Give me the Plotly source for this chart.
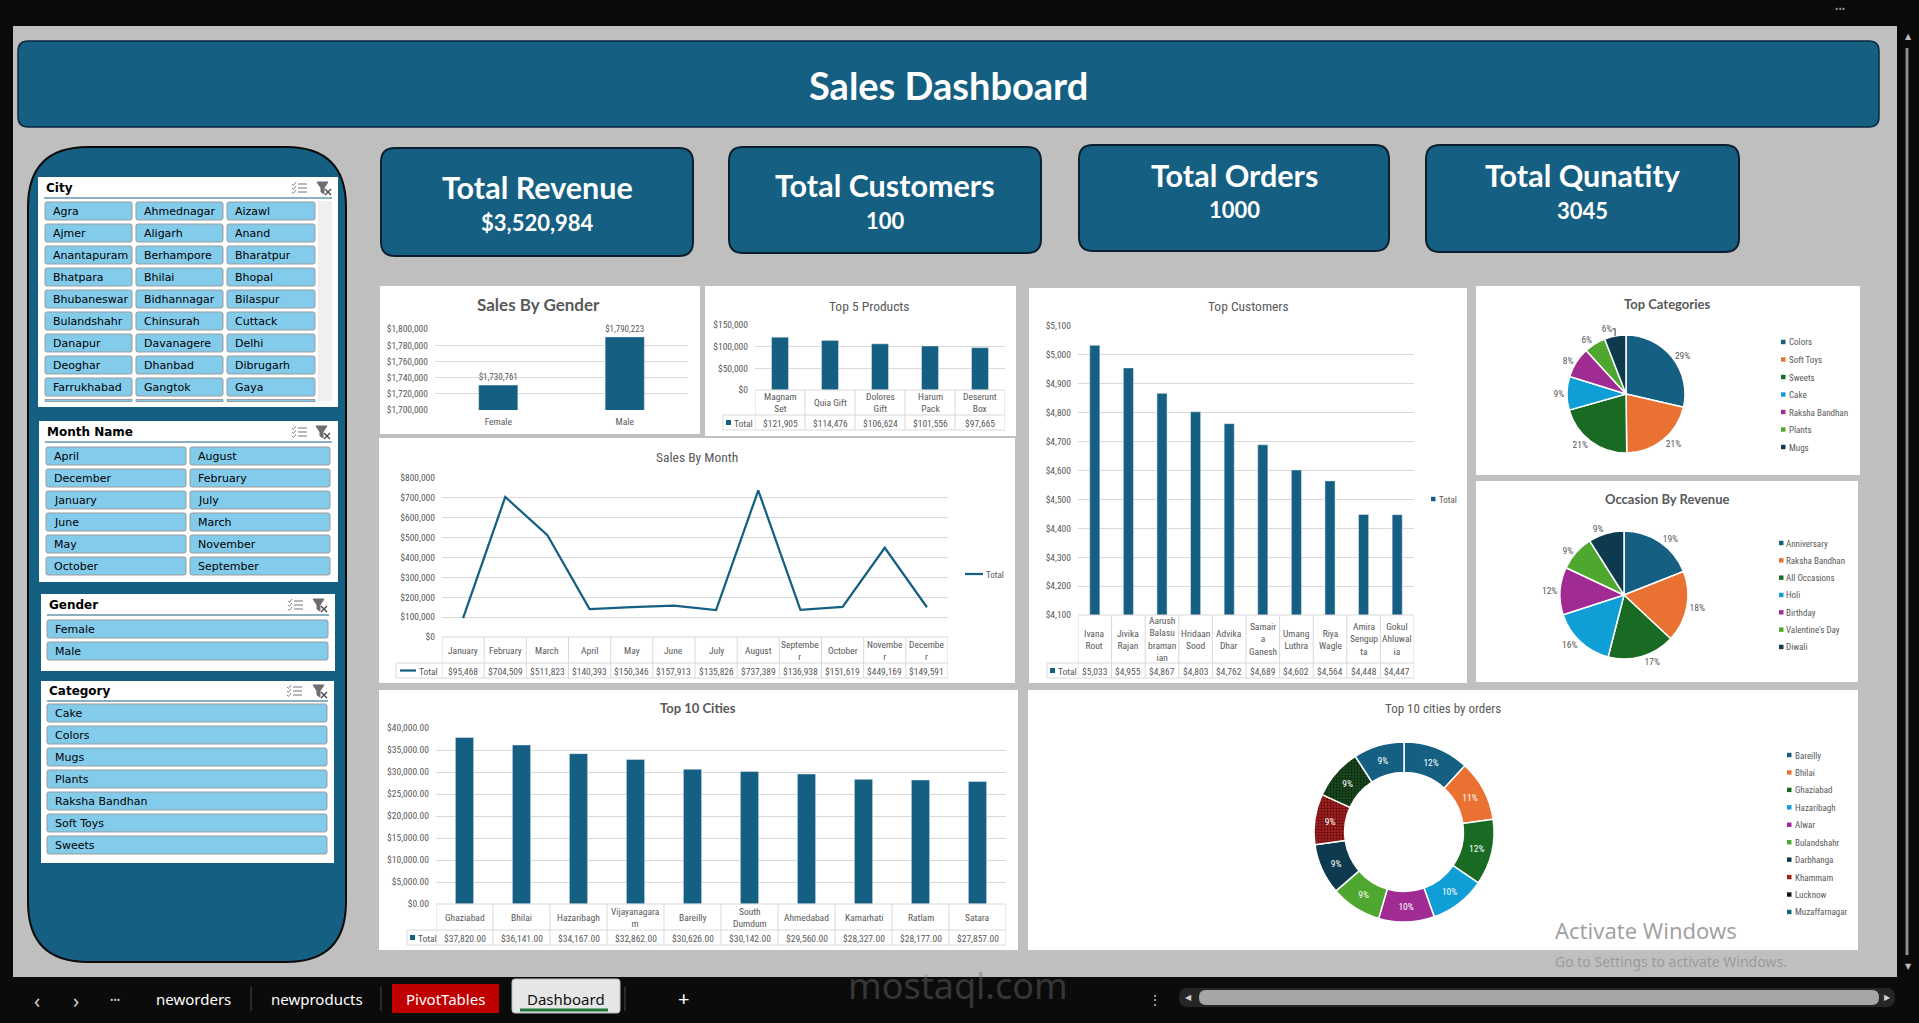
import plotly.graph_objects as go

W, H = 1919, 1023

# ---------------- data ----------------
kpi_labels = ["Total Revenue", "Total Customers", "Total Orders", "Total Qunatity"]
kpi_values = [3520984, 100, 1000, 3045]
kpi_formats = ["${:,}", "{}", "{}", "{}"]

gender_labels = ["Female", "Male"]
gender_sales = [1730761, 1790223]

product_names = ["Magnam Set", "Quia Gift", "Dolores Gift", "Harum Pack", "Deserunt Box"]
product_ticks = ["Magnam<br>Set", "Quia Gift", "Dolores<br>Gift", "Harum<br>Pack", "Deserunt<br>Box"]
product_sales = [121905, 114476, 106624, 101556, 97665]

customer_names = ["Ivana Rout", "Jivika Rajan", "Aarush Balasubramanian", "Hridaan Sood", "Advika Dhar",
                  "Samaira Ganesh", "Umang Luthra", "Riya Wagle", "Amira Sengupta", "Gokul Ahluwalia"]
customer_ticks = ["Ivana<br>Rout", "Jivika<br>Rajan", "Aarush<br>Balasu<br>braman<br>ian", "Hridaan<br>Sood",
                  "Advika<br>Dhar", "Samair<br>a<br>Ganesh", "Umang<br>Luthra", "Riya<br>Wagle",
                  "Amira<br>Sengup<br>ta", "Gokul<br>Ahluwal<br>ia"]
customer_sales = [5033, 4955, 4867, 4803, 4762, 4689, 4602, 4564, 4448, 4447]

month_names = ["January", "February", "March", "April", "May", "June", "July", "August",
               "September", "October", "November", "December"]
month_ticks = ["January", "February", "March", "April", "May", "June", "July", "August",
               "Septembe<br>r", "October", "Novembe<br>r", "Decembe<br>r"]
month_sales = [95468, 704509, 511823, 140393, 150346, 157913, 135826, 737389, 136938, 151619, 449169, 149591]

city_names = ["Ghaziabad", "Bhilai", "Hazaribagh", "Vijayanagaram", "Bareilly", "South Dumdum",
              "Ahmedabad", "Kamarhati", "Ratlam", "Satara"]
city_ticks = ["Ghaziabad", "Bhilai", "Hazaribagh", "Vijayanagara<br>m", "Bareilly", "South<br>Dumdum",
              "Ahmedabad", "Kamarhati", "Ratlam", "Satara"]
city_sales = [37820, 36141, 34167, 32862, 30626, 30142, 29560, 28327, 28177, 27857]

category_names = ["Colors", "Soft Toys", "Sweets", "Cake", "Raksha Bandhan", "Plants", "Mugs"]
category_share = [28.6, 21.2, 20.8, 9.2, 8.4, 5.9, 5.9]

occasion_names = ["Anniversary", "Raksha Bandhan", "All Occasions", "Holi", "Birthday", "Valentine's Day", "Diwali"]
occasion_share = [19, 18, 17, 16, 12, 9, 9]

order_cities = ["Bareilly", "Bhilai", "Ghaziabad", "Hazaribagh", "Alwar", "Bulandshahr",
                "Darbhanga", "Khammam", "Lucknow", "Muzaffarnagar"]
order_counts = [13, 12, 13, 11, 11, 10, 10, 10, 10, 10]

slicer_cities = ["Agra", "Ahmednagar", "Aizawl", "Ajmer", "Aligarh", "Anand", "Anantapuram", "Berhampore",
                 "Bharatpur", "Bhatpara", "Bhilai", "Bhopal", "Bhubaneswar", "Bidhannagar", "Bilaspur",
                 "Bulandshahr", "Chinsurah", "Cuttack", "Danapur", "Davanagere", "Delhi", "Deoghar",
                 "Dhanbad", "Dibrugarh", "Farrukhabad", "Gangtok", "Gaya"]
slicer_months = ["April", "August", "December", "February", "January", "July", "June", "March",
                 "May", "November", "October", "September"]
slicer_genders = ["Female", "Male"]
slicer_categories = ["Cake", "Colors", "Mugs", "Plants", "Raksha Bandhan", "Soft Toys", "Sweets"]

sheet_tabs = ["neworders", "newproducts", "PivotTables", "Dashboard"]

# ---------------- styles ----------------
BLUE = "#156082"
GRAY_TXT = "#595959"
GRID = "#d9d9d9"
NARROW = "Liberation Sans Narrow, Arial Narrow, Roboto Condensed, Roboto, sans-serif"
HEAD = "Lato, Open Sans, sans-serif"
SLICER = "DejaVu Sans, Verdana, sans-serif"
UI = "Noto Sans, Open Sans, sans-serif"
pie_colors = ["#156082", "#E97132", "#196B24", "#0F9ED5", "#A02B93", "#4EA72E", "#0D3A4E"]
donut_colors = pie_colors + ["#A41E1E", "#1A4A1E", "#156082"]

shapes = []
annotations = []


def X(p):
    return p / W


def Y(p):
    return 1 - p / H


def rect(x0, y0, x1, y1, fill, line_color=None, lw=0, layer="below"):
    shapes.append(dict(type="rect", xref="paper", yref="paper", x0=X(x0), x1=X(x1), y0=Y(y1), y1=Y(y0),
                       fillcolor=fill, line=dict(color=line_color or fill, width=lw), layer=layer))


def P(x, y):
    return f"{X(x):.6f},{Y(y):.6f}"


def rrect(x0, y0, x1, y1, r, fill, line_color, lw, layer="below"):
    path = (f"M{P(x0 + r, y0)} L{P(x1 - r, y0)} Q{P(x1, y0)} {P(x1, y0 + r)} L{P(x1, y1 - r)} "
            f"Q{P(x1, y1)} {P(x1 - r, y1)} L{P(x0 + r, y1)} Q{P(x0, y1)} {P(x0, y1 - r)} "
            f"L{P(x0, y0 + r)} Q{P(x0, y0)} {P(x0 + r, y0)} Z")
    shapes.append(dict(type="path", xref="paper", yref="paper", path=path, fillcolor=fill,
                       line=dict(color=line_color, width=lw), layer=layer))


def line(x0, y0, x1, y1, color, w=1, layer="above"):
    shapes.append(dict(type="line", xref="paper", yref="paper", x0=X(x0), x1=X(x1), y0=Y(y0), y1=Y(y1),
                       line=dict(color=color, width=w), layer=layer))


def text(x, y, s, size, color, family, xanchor="center", yanchor="middle"):
    annotations.append(dict(xref="paper", yref="paper", x=X(x), y=Y(y), text=s, showarrow=False,
                            font=dict(size=size, color=color, family=family), xanchor=xanchor,
                            yanchor=yanchor, borderpad=0))


# ---------------- frame ----------------
rect(0, 0, W, 26, "#0a0a0a")
rect(0, 0, 13, H, "#0a0a0a")
rect(1897, 0, W, H, "#0a0a0a")
rect(0, 977, W, H, "#0b0b0b")
text(1840, 9, "•••", 9, "#9a9a9a", UI)
text(1908, 37, "▲", 8, "#bdbdbd", SLICER)
text(1908, 966, "▼", 8, "#bdbdbd", SLICER)
line(1907, 48, 1907, 955, "#8c8c8c", 3, layer="below")

# title banner
rrect(18, 41, 1879, 127, 10, BLUE, "#0e2841", 1.5)
text(948, 85, "<b>Sales Dashboard</b>", 38, "white", HEAD)

# KPI cards
kpi_boxes = [(381, 148, 693, 256), (729, 147, 1041, 253), (1079, 145, 1389, 251), (1426, 145, 1739, 252)]
kpi_title_y = [187, 185, 175, 175]
kpi_value_y = [222, 220, 209, 210]
for (x0, y0, x1, y1), lab, val, fmt, ty, vy in zip(kpi_boxes, kpi_labels, kpi_values, kpi_formats,
                                                    kpi_title_y, kpi_value_y):
    rrect(x0, y0, x1, y1, 14, BLUE, "#0b1f2e", 2)
    cx = (x0 + x1) / 2
    text(cx, ty, f"<b>{lab}</b>", 30.5, "white", HEAD)
    text(cx, vy, f"<b>{fmt.format(val)}</b>", 22, "white", HEAD)

# white chart panels
panels = [(380, 286, 700, 434), (705, 286, 1016, 436), (1029, 288, 1467, 683), (1476, 286, 1860, 475),
          (1476, 481, 1858, 682), (379, 438, 1015, 683), (379, 690, 1018, 950), (1028, 690, 1858, 950)]
for p in panels:
    rect(*p, "white")

# ---------------- left slicer panel ----------------
rrect(28, 147, 346, 962, 60, BLUE, "#0b0b0b", 2)


def icon_multi(x0, y0):
    for k in range(3):
        yy = y0 + 2 + k * 4
        line(x0 + 6, yy, x0 + 15, yy, "#8a8a8a", 1.2)
        shapes.append(dict(type="path", xref="paper", yref="paper",
                           path=f"M{P(x0, yy)} L{P(x0 + 1.5, yy + 1.5)} L{P(x0 + 4, yy - 2)}",
                           line=dict(color="#8a8a8a", width=1), layer="above"))


def icon_clear(x0, y0):
    shapes.append(dict(type="path", xref="paper", yref="paper",
                       path=(f"M{P(x0 + 1, y0)} L{P(x0 + 12, y0)} L{P(x0 + 8, y0 + 6)} L{P(x0 + 8, y0 + 12)} "
                             f"L{P(x0 + 5, y0 + 10)} L{P(x0 + 5, y0 + 6)} Z"),
                       fillcolor="#6e6e6e", line=dict(color="#6e6e6e", width=1), layer="above"))
    line(x0 + 9, y0 + 7, x0 + 15, y0 + 13, "#505050", 1.5)
    line(x0 + 15, y0 + 7, x0 + 9, y0 + 13, "#505050", 1.5)


def slicer(box, title, title_y, line_y, lx0, lx1, cols, y0, bh, pitch, items, icon_x, icon_y):
    rect(*box, "white", layer="above")
    text(lx0 + 1, title_y, f"<b>{title}</b>", 12, "#000000", SLICER, "left")
    line(lx0, line_y, lx1, line_y, BLUE, 1)
    for k, item in enumerate(items):
        r, c = divmod(k, len(cols))
        xa, xb = cols[c]
        ya = y0 + r * pitch
        rrect(xa, ya, xb, ya + bh, 2, "#83CBEB", "#9b9b9b", 1, layer="above")
        text(xa + 7, ya + bh / 2 + 0.5, item, 11, "#000000", SLICER, "left")
    icon_multi(icon_x[0], icon_y)
    icon_clear(icon_x[1], icon_y)


city_cols = [(45, 132), (136, 223), (227, 315)]
slicer((38, 177, 338, 407), "City", 188, 198, 44, 332, city_cols, 202, 18, 22, slicer_cities,
       (292, 316), 182)
for xa, xb in city_cols:
    rect(xa, 399.5, xb, 401.5, "#83CBEB", "#9b9b9b", 1, layer="above")
rect(318, 201, 332, 401, "#efefef", layer="above")

slicer((39, 421, 338, 582), "Month Name", 432, 442, 45, 332, [(46, 186), (190, 330)], 447, 18, 22,
       slicer_months, (292, 315), 426)
slicer((41, 594, 335, 671), "Gender", 605, 615, 47, 329, [(47, 328)], 620, 18, 22,
       slicer_genders, (288, 312), 599)
slicer((41, 681, 334, 863), "Category", 691, 701, 47, 328, [(47, 327)], 704, 18, 22,
       slicer_categories, (287, 312), 685)

# ---------------- traces ----------------
fig = go.Figure()
bar_common = dict(marker_color=BLUE, showlegend=False, hoverinfo="skip")

fig.add_trace(go.Bar(x=gender_labels, y=gender_sales, width=0.31, texttemplate="%{y:$,.0f}",
                     textposition="outside", textfont=dict(size=9.5, color=GRAY_TXT, family=NARROW),
                     cliponaxis=False, xaxis="x", yaxis="y", **bar_common))
fig.add_trace(go.Bar(x=product_names, y=product_sales, width=0.34, xaxis="x2", yaxis="y2", **bar_common))
fig.add_trace(go.Bar(x=customer_names, y=customer_sales, width=0.3, xaxis="x3", yaxis="y3", **bar_common))
fig.add_trace(go.Scatter(x=month_names, y=month_sales, mode="lines", line=dict(color=BLUE, width=2.25),
                         xaxis="x4", yaxis="y4", showlegend=False, hoverinfo="skip", cliponaxis=False))
fig.add_trace(go.Bar(x=city_names, y=city_sales, width=0.32, xaxis="x5", yaxis="y5", **bar_common))

fig.add_trace(go.Pie(labels=category_names, values=category_share, sort=False, direction="clockwise",
                     marker=dict(colors=pie_colors, line=dict(color="white", width=1.5)),
                     textposition="outside", texttemplate="%{percent:.0%}",
                     textfont=dict(size=9.5, color=GRAY_TXT, family=NARROW),
                     domain=dict(x=[X(1567), X(1685)], y=[Y(453), Y(335)]),
                     showlegend=False, hoverinfo="skip", automargin=False))
fig.add_trace(go.Pie(labels=occasion_names, values=occasion_share, sort=False, direction="clockwise",
                     marker=dict(colors=pie_colors, line=dict(color="white", width=1.5)),
                     textposition="outside", texttemplate="%{percent:.0%}",
                     textfont=dict(size=9.5, color=GRAY_TXT, family=NARROW),
                     domain=dict(x=[X(1560), X(1688)], y=[Y(659), Y(531)]),
                     showlegend=False, hoverinfo="skip", automargin=False))
fig.add_trace(go.Pie(labels=order_cities, values=order_counts, sort=False, direction="clockwise", hole=0.66,
                     marker=dict(colors=donut_colors, line=dict(color="white", width=1.5),
                                 pattern=dict(shape=["", "", "", "", "", "", "", ".", ".", ""],
                                              fillmode="overlay", fgcolor="#000000", fgopacity=0.55,
                                              size=3, solidity=0.3)),
                     textposition="inside", insidetextorientation="horizontal", texttemplate="%{percent:.0%}",
                     textfont=dict(size=9.5, color="white", family=NARROW),
                     domain=dict(x=[X(1314), X(1494)], y=[Y(922), Y(742)]),
                     showlegend=False, hoverinfo="skip", automargin=False))

# ---------------- axes ----------------
tickfont = dict(size=9.5, color=GRAY_TXT, family=NARROW)


def xax(x0, x1, anchor, n, show=False):
    return dict(domain=[X(x0), X(x1)], anchor=anchor, type="category", range=[-0.5, n - 0.5],
                showgrid=False, zeroline=False, showline=False, showticklabels=show, ticks="",
                fixedrange=True, tickfont=tickfont, ticklabelstandoff=4, automargin=False)


def yax(y0, y1, anchor, rng, dtick, fmt):
    return dict(domain=[Y(y1), Y(y0)], anchor=anchor, range=rng, dtick=dtick, tick0=0, tickformat=fmt,
                showgrid=True, gridcolor=GRID, gridwidth=1, zeroline=False, showline=False, ticks="",
                fixedrange=True, tickfont=tickfont, ticklabelstandoff=6, automargin=False)


layout_axes = dict(
    xaxis=xax(435, 688, "y", len(gender_labels), show=True),
    yaxis=yax(329, 410, "x", [1700000, 1800000], 20000, "$,.0f"),
    xaxis2=xax(755, 1005, "y2", len(product_names)),
    yaxis2=yax(325, 390, "x2", [0, 150000], 50000, "$,.0f"),
    xaxis3=xax(1078, 1414, "y3", len(customer_names)),
    yaxis3=yax(326, 615, "x3", [4100, 5100], 100, "$,.0f"),
    xaxis4=xax(442, 948, "y4", len(month_names)),
    yaxis4=yax(478, 637, "x4", [0, 800000], 100000, "$,.0f"),
    xaxis5=xax(436, 1006, "y5", len(city_names)),
    yaxis5=yax(728, 904, "x5", [0, 40000], 5000, "$,.2f"),
)


# ---------------- data tables ----------------
def add_table(xa, names, ticks, values, fmt, top, mid, bot, key_x0, plot_x0, plot_x1, key="square"):
    n = len(names)
    line(plot_x0, top, plot_x1, top, GRID)
    line(key_x0, mid, plot_x1, mid, GRID)
    line(key_x0, bot, plot_x1, bot, GRID)
    line(key_x0, mid, key_x0, bot, GRID)
    for i in range(n + 1):
        shapes.append(dict(type="line", xref=xa, yref="paper", x0=i - 0.5, x1=i - 0.5, y0=Y(bot), y1=Y(top),
                           line=dict(color=GRID, width=1), layer="above"))
    for name, tick, v in zip(names, ticks, values):
        annotations.append(dict(xref=xa, yref="paper", x=name, y=Y((top + mid) / 2), text=tick,
                                showarrow=False, font=tickfont, xanchor="center", yanchor="middle"))
        annotations.append(dict(xref=xa, yref="paper", x=name, y=Y((mid + bot) / 2 + 0.5), text=fmt.format(v),
                                showarrow=False, font=tickfont, xanchor="center", yanchor="middle"))
    cy = (mid + bot) / 2
    if key == "square":
        rect(key_x0 + 3, cy - 2.5, key_x0 + 8, cy + 2.5, BLUE, layer="above")
        text(key_x0 + 10, cy + 0.5, "Total", 9.5, GRAY_TXT, NARROW, "left")
    else:
        line(key_x0 + 4, cy, key_x0 + 20, cy, BLUE, 2.25)
        text(key_x0 + 22, cy + 0.5, "Total", 9.5, GRAY_TXT, NARROW, "left")


add_table("x2", product_names, product_ticks, product_sales, "${:,}", 390, 415, 430, 723, 755, 1005)
add_table("x3", customer_names, customer_ticks, customer_sales, "${:,}", 615, 663, 678, 1047, 1078, 1414)
add_table("x4", month_names, month_ticks, month_sales, "${:,}", 637, 663, 678, 396, 442, 948, key="line")
add_table("x5", city_names, city_ticks, city_sales, "${:,.2f}", 904, 930, 945, 407, 436, 1006)

# ---------------- chart titles ----------------
text(538, 305, "<b>Sales By Gender</b>", 17, GRAY_TXT, HEAD)
text(869, 306, "Top 5 Products", 13.5, GRAY_TXT, NARROW)
text(1248, 306, "Top Customers", 13.5, GRAY_TXT, NARROW)
text(1667, 304, "<b>Top Categories</b>", 13, GRAY_TXT, HEAD)
text(1667, 499, "<b>Occasion By Revenue</b>", 13, GRAY_TXT, HEAD)
text(697, 457, "Sales By Month", 13.5, GRAY_TXT, NARROW)
text(698, 708, "<b>Top 10 Cities</b>", 13, GRAY_TXT, HEAD)
text(1443, 708, "Top 10 cities by orders", 13, GRAY_TXT, NARROW)


# ---------------- custom legends ----------------
def legend(names, colors, sq_x, y0, pitch, text_x):
    for i, (nm, c) in enumerate(zip(names, colors)):
        yy = y0 + i * pitch
        rect(sq_x, yy - 2.2, sq_x + 4.5, yy + 2.2, c, layer="above")
        text(text_x, yy + 0.5, nm, 9, GRAY_TXT, NARROW, "left")


legend(category_names, pie_colors, 1781, 342, 17.5, 1788)
legend(occasion_names, pie_colors, 1779, 543, 17.33, 1785)
legend(order_cities, ["#156082", "#E97132", "#196B24", "#0F9ED5", "#A02B93", "#4EA72E", "#0D3A4E",
                      "#A41E1E", "#111111", "#156082"], 1787, 755, 17.44, 1794)
legend(["Total"], [BLUE], 1431, 499, 0, 1438)
line(965, 574, 983, 574, BLUE, 2.25)
text(985, 574.5, "Total", 9, GRAY_TXT, NARROW, "left")

# ---------------- bottom sheet bar ----------------
text(37, 1000, "‹", 20, "#d0d0d0", UI)
text(76, 1000, "›", 20, "#d0d0d0", UI)
text(115, 999, "•••", 9, "#d0d0d0", UI)
line(251, 987, 251, 1011, "#4a4a4a", 1)
line(381, 987, 381, 1011, "#4a4a4a", 1)
rect(392, 984, 499, 1013, "#C00000", layer="above")
rrect(512, 979, 620, 1013, 3, "#e6e6e6", "#bdbdbd", 1, layer="above")
line(520, 1010, 608, 1010, "#1f7a3a", 3)
line(625, 987, 625, 1011, "#4a4a4a", 1)
tab_x = [193, 317, 445, 566]
tab_col = ["#ffffff", "#ffffff", "#ffffff", "#111111"]
for tname, tx, tc in zip(sheet_tabs, tab_x, tab_col):
    text(tx, 999, tname, 15, tc, UI)
text(683, 998, "+", 20, "#ffffff", UI)
text(1155, 999, "⋮", 14, "#bdbdbd", UI)
rrect(1179, 988, 1895, 1007, 9, "#262626", "#262626", 0, layer="above")
rrect(1199, 990, 1879, 1005, 7, "#a6a6a6", "#a6a6a6", 0, layer="above")
text(1188, 997, "◀", 8, "#d0d0d0", SLICER)
text(1887, 997, "▶", 8, "#d0d0d0", SLICER)

# overlays seen on the screenshot
text(1554, 930, "Activate Windows", 22, "rgba(130,130,130,0.75)", UI, "left")
text(1554, 961, "Go to Settings to activate Windows.", 14, "rgba(150,150,150,0.9)", UI, "left")
text(958, 985, "mostaql.com", 36, "rgba(110,110,110,0.45)", UI)

fig.update_layout(width=W, height=H, margin=dict(l=0, r=0, t=0, b=0, pad=0, autoexpand=False),
                  paper_bgcolor="#bfbfbf",
                  plot_bgcolor="rgba(0,0,0,0)", showlegend=False, hovermode=False,
                  font=dict(family=NARROW, size=9.5, color=GRAY_TXT),
                  shapes=shapes, annotations=annotations, **layout_axes)

fig.write_html("out.html")
